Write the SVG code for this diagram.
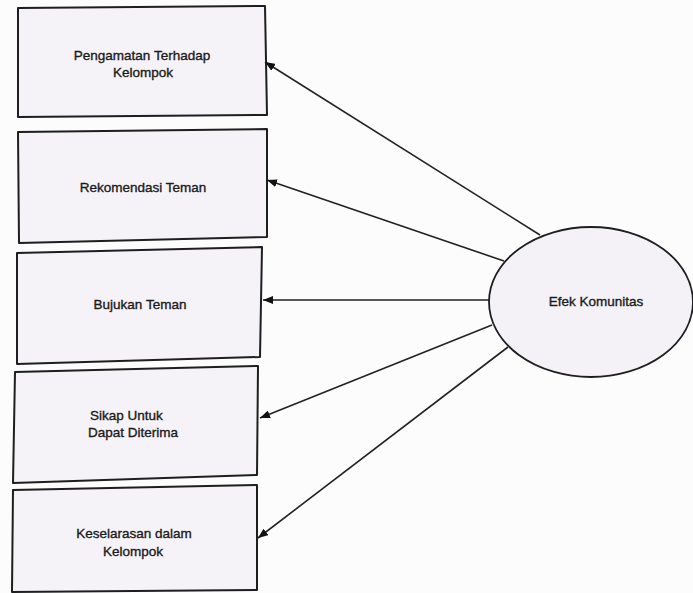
<svg xmlns="http://www.w3.org/2000/svg" width="693" height="593" viewBox="0 0 693 593">
  <style>
    .box { fill: #f6f3f8; stroke: #1e1e1e; stroke-width: 2; stroke-linejoin: round; }
    .oval { fill: #f4f2f6; stroke: #1e1e1e; stroke-width: 1.8; }
    .lbl { font-family: "Liberation Sans", Arial, sans-serif; font-size: 13.5px; fill: #1a1a1a; stroke: #1a1a1a; stroke-width: 0.35; }
    .mid { text-anchor: middle; }
    .edge { stroke: #222; stroke-width: 1.6; fill: none; marker-end: url(#head); }
  </style>
  <defs>
    <marker id="head" viewBox="0 0 10 8" refX="10" refY="4" markerWidth="10" markerHeight="8" markerUnits="userSpaceOnUse" orient="auto">
      <path d="M0,0 L10,4 L0,8 Z" fill="#111"/>
    </marker>
  </defs>
  <rect width="693" height="593" fill="#fcfcfc"/>

  <g id="n1">
    <path class="box" d="M18,8 L265,6 L267,115 L18,117 Z"/>
    <text class="lbl mid" x="142" y="60">Pengamatan Terhadap</text>
    <text class="lbl mid" x="143" y="77">Kelompok</text>
  </g>
  <g id="n2">
    <path class="box" d="M18,132 L267,129 L267,237 L19,243 Z"/>
    <text class="lbl mid" x="143" y="192">Rekomendasi Teman</text>
  </g>
  <g id="n3">
    <path class="box" d="M17,253 L262,247 L260,357 L17,364 Z"/>
    <text class="lbl mid" x="140" y="309">Bujukan Teman</text>
  </g>
  <g id="n4">
    <path class="box" d="M15,372 L258,366 L257,475 L13,483 Z"/>
    <text class="lbl" x="90" y="420">Sikap Untuk</text>
    <text class="lbl" x="88" y="437">Dapat Diterima</text>
  </g>
  <g id="n5">
    <path class="box" d="M13,490 L257,485 L257,590 L12,592 Z"/>
    <text class="lbl mid" x="134" y="538">Keselarasan dalam</text>
    <text class="lbl mid" x="133" y="556">Kelompok</text>
  </g>
  <g id="n6">
    <ellipse class="oval" cx="591" cy="302" rx="102" ry="75"/>
    <text class="lbl mid" x="596" y="306">Efek Komunitas</text>
  </g>

  <g id="connectors">
    <line class="edge" x1="540" y1="235" x2="265" y2="62"/>
    <line class="edge" x1="504" y1="261" x2="267" y2="180"/>
    <line class="edge" x1="489" y1="300" x2="263" y2="300"/>
    <line class="edge" x1="492" y1="325" x2="260" y2="418"/>
    <line class="edge" x1="508" y1="347" x2="258" y2="538"/>
  </g>
</svg>
